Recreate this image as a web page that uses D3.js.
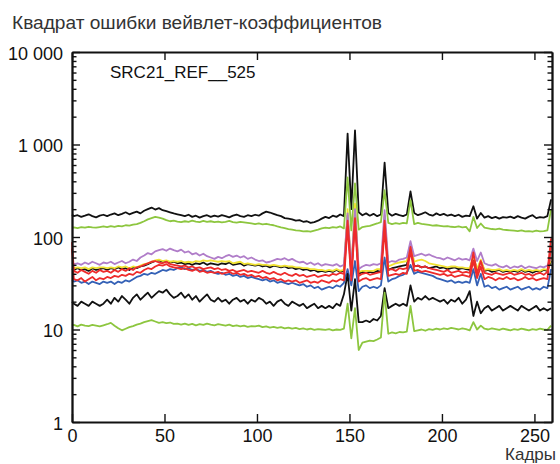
<!DOCTYPE html>
<html><head><meta charset="utf-8">
<script src="https://cdn.jsdelivr.net/npm/d3@7"></script>
<style>body{margin:0;background:#fff}svg{display:block}</style>
</head><body>
<svg id="c" width="560" height="464"></svg>
<script>
const titleText = "Квадрат ошибки вейвлет-коэффициентов";
const seriesLabel = "SRC21_REF__525";
const xAxisLabel = "Кадры";
const xTicks = [0, 50, 100, 150, 200, 250];
const yTicks = [1, 10, 100, 1000, 10000];
const yTickLabels = ["1", "10", "100", "1 000", "10 000"];
const yMinor = [2,3,4,5,6,7,8,9,20,30,40,50,60,70,80,90,200,300,400,500,600,700,800,900,2000,3000,4000,5000,6000,7000,8000,9000];

const frames = [0,1,3,5,7,9,11,13,15,17,19,21,23,25,27,29,31,33,35,37,39,41,43,45,47,49,51,53,55,57,59,61,63,65,67,69,71,73,75,77,79,81,83,85,87,89,91,93,95,97,99,101,103,105,107,109,111,113,115,117,119,121,123,125,127,129,131,133,135,137,139,141,143,145,147,149,151,153,155,157,159,161,163,165,167,169,171,173,175,177,179,181,183,185,187,189,191,193,195,197,199,201,203,205,207,209,211,213,215,217,219,221,223,225,227,229,231,233,235,237,239,241,243,245,247,249,251,253,255,257,259];

const blackTop = [175,168,172,165,170,176,168,163,170,174,
168,175,180,172,178,185,176,182,188,180,
192,200,208,198,205,195,190,185,180,176,
172,168,174,165,170,162,168,172,165,170,
166,172,168,163,170,175,168,165,172,168,
174,170,180,188,184,178,172,168,160,158,
155,150,152,146,148,142,145,150,158,165,
160,170,165,175,168,1312,200,1423,185,172,
180,170,178,168,175,637,182,170,178,172,
168,175,312,182,172,178,185,175,170,180,
172,178,170,175,168,174,165,170,168,215,
158,182,162,168,160,165,158,164,162,166,
160,168,162,158,166,172,160,164,162,168,
255];

const greenTop = [126,127,125,128,126,129,127,126,128,130,
128,131,129,132,130,134,133,136,138,142,
148,155,160,165,162,158,152,148,150,147,
145,148,146,150,147,145,149,146,148,145,
147,144,146,149,145,143,146,144,142,140,
138,140,137,139,136,134,130,127,125,122,
120,118,117,115,116,114,117,120,124,126,
125,128,126,130,124,440,118,380,120,128,
130,132,136,140,145,320,142,138,141,139,
142,140,250,138,142,139,137,135,133,134,
132,130,131,129,128,130,127,129,115,165,
125,140,126,124,122,121,123,120,119,118,
117,116,118,115,116,114,117,115,116,118,
200];

const purple = [53,51,52,50,53,51,54,52,50,53,
52,54,51,53,55,52,54,57,55,60,
63,67,65,70,72,74,71,75,72,70,
73,68,70,65,67,63,66,62,60,58,
61,59,62,64,61,63,60,62,58,60,
57,55,56,53,54,56,58,57,59,56,
58,55,53,54,51,53,50,52,49,51,
50,49,51,48,50,180,46,200,45,48,
50,49,51,50,52,195,53,55,54,57,
58,60,90,62,64,66,63,65,62,60,
59,57,60,58,56,59,57,58,56,75,
55,68,52,50,49,51,48,47,49,46,
48,47,49,46,48,47,46,48,47,49,
60];

const yellow = [47,46,47,46,47,45,47,46,47,47,
46,47,46,48,47,48,46,48,47,49,
51,52,54,56,57,55,56,54,55,54,
55,53,54,53,55,54,56,55,56,55,
54,55,54,55,52,53,54,51,52,51,
50,51,50,50,49,50,49,48,49,48,
48,47,47,46,46,45,45,44,44,43,
44,43,45,43,44,200,42,230,42,43,
43,43,43,45,45,170,48,50,52,53,
54,55,85,54,56,57,55,52,51,50,
49,48,47,48,48,47,47,46,46,62,
45,57,44,45,44,44,45,43,44,43,
44,43,45,43,44,43,44,43,45,44,
58];

const blackMid = [45,44,46,44,45,43,46,44,45,46,
44,46,45,47,45,46,44,47,46,48,
49,51,53,55,56,54,55,53,54,52,
53,51,52,50,52,51,53,50,52,51,
50,52,51,53,50,51,52,49,51,50,
49,50,48,49,47,49,48,47,48,46,
47,45,46,44,45,43,44,42,43,42,
43,42,44,42,43,170,40,190,40,42,
41,42,41,43,42,150,44,46,47,48,
49,50,75,48,49,47,48,46,47,48,
46,47,45,46,47,45,46,45,44,60,
44,55,43,44,42,43,44,42,43,42,
43,42,44,42,43,41,43,42,44,43,
55];

const redUpper = [88,43,41,44,42,40,43,41,44,42,
43,41,44,42,45,43,46,44,47,48,
50,52,54,55,53,52,54,51,50,49,
48,49,47,48,46,47,45,46,47,45,
46,44,45,43,44,42,43,44,42,43,
42,41,43,41,40,42,40,39,41,39,
38,40,38,39,37,38,39,37,38,39,
38,40,39,41,40,150,38,160,38,40,
41,39,40,41,42,150,44,45,43,46,
45,46,78,48,49,47,48,46,45,44,
43,42,44,41,42,43,41,42,41,68,
40,55,41,40,39,41,40,39,40,41,
39,40,41,39,40,38,40,41,39,42,
97];

const redLower = [75,35,34,36,33,35,37,34,36,35,
37,36,38,37,39,38,40,39,42,41,
44,46,45,48,50,49,51,48,47,46,
45,46,44,43,45,42,43,41,42,41,
42,40,41,42,40,41,39,40,38,39,
37,38,36,37,35,36,34,35,33,34,
33,34,32,33,34,32,33,32,34,33,
32,34,33,35,34,130,34,140,33,35,
36,34,35,36,35,120,38,39,40,39,
41,40,70,43,44,42,43,42,41,40,
39,40,38,39,37,38,39,38,37,55,
36,48,35,37,36,34,36,35,37,35,
36,34,35,37,35,36,34,35,36,35,
80];

const blue = [34,33,34,32,33,31,33,32,31,33,
32,33,31,33,32,34,33,35,37,38,
40,39,41,40,42,44,43,45,44,46,
47,45,46,44,45,43,44,42,43,41,
40,41,39,40,38,39,37,38,36,37,
36,35,34,35,33,34,32,33,32,31,
32,31,30,31,29,30,28,29,27,28,
29,28,30,29,32,45,30,55,26,29,
30,28,29,28,30,60,33,35,36,38,
39,41,50,40,42,41,40,39,38,36,
35,34,33,34,32,33,32,33,32,45,
30,40,29,30,28,29,27,28,29,27,
28,29,27,28,29,27,28,27,29,28,
45];

const blackLow = [20,19,18,20,19,18,20,19,18,19,
21,19,22,20,23,21,19,22,24,21,
23,25,22,24,26,25,27,24,22,23,
25,22,24,21,23,20,22,24,21,20,
22,20,21,19,21,22,20,21,19,21,
20,22,21,19,20,18,20,21,19,18,
20,19,18,19,17,18,19,17,18,17,
18,17,19,18,24,40,16,35,12,12,
12.5,12,13,12.5,14,28,17,18,19,18,
19,18,30,20,22,21,23,21,22,21,
20,21,19,21,20,22,19,21,26,14,
20,15,17,18,16,17,18,16,17,18,
17,16,18,17,16,17,18,16,17,16,
17];

const greenLow = [11,11.2,10.8,11.3,11,10.9,11.2,11,10.8,11.1,
11.4,11.8,11,10.3,9.8,10.2,10.6,10.9,11.3,11.6,
12,12.3,12.6,12.2,11.8,12,11.7,11.9,11.5,11.6,
11.3,11.6,11.2,11.5,11.1,11.4,11.2,11.6,11.3,11.1,
11.4,11.2,11,11.3,10.9,11.1,10.8,11,10.7,10.9,
10.8,11,10.6,10.8,10.5,10.7,10.4,10.6,10.3,10.5,
10.2,10.4,10.1,10.3,10,10.2,9.9,10.1,10,9.9,
10.1,9.8,10,9.9,10.2,19,8,17,6,7.2,
7.4,7.6,7.5,7.8,8.2,25,9,9.3,9.1,9.4,
9.3,9.5,18,9.6,9.8,10,9.7,10.1,9.9,10.2,
10,10.3,10.1,10.4,10.2,10,10.3,10.1,9.8,12,
10,11,10.2,10,10.3,10.1,9.9,10.2,10,9.8,
10.1,9.9,10.2,10,9.8,10.1,9.9,10.2,10,9.9,
11];

// drawing order (bottom to top) and colours
const series = [
  {v: blackTop, c: "#111111"},
  {v: greenTop, c: "#8dc63f"},
  {v: blackMid, c: "#111111"},
  {v: yellow,   c: "#f0e232"},
  {v: purple,   c: "#b07dc9"},
  {v: blue,     c: "#3461b6"},
  {v: redLower, c: "#ee2b2b"},
  {v: redUpper, c: "#ee2b2b"},
  {v: blackLow, c: "#111111"},
  {v: greenLow, c: "#8dc63f"}
];

const FONT = "'Liberation Sans', Arial, Helvetica, sans-serif";
const AX = "#111111";
const svg = d3.select("#c");
const L = 72, R = 552, T = 52, B = 422;
const x = d3.scaleLinear().domain([0, 259.5]).range([L, R]);
const y = d3.scaleLog().domain([1, 10000]).range([B, T]);

// title
svg.append("text").attr("x", 12).attr("y", 29).attr("font-family", FONT)
  .attr("font-size", 17.5).attr("textLength", 370).attr("lengthAdjust", "spacingAndGlyphs")
  .attr("fill", "#333").text(titleText);

// series lines
const line = d3.line().x((d, i) => x(frames[i])).y(d => y(d));
const g = svg.append("g");
series.forEach(s => {
  g.append("path").attr("d", line(s.v)).attr("fill", "none")
    .attr("stroke", s.c).attr("stroke-width", 1.8)
    .attr("stroke-linejoin", "round");
});

// axes (ticks pointing inward, full box)
function style(sel) {
  sel.select(".domain").attr("stroke", AX).attr("stroke-width", 1.8);
  sel.selectAll(".tick line").attr("stroke", AX).attr("stroke-width", 1.4);
  sel.selectAll("text").attr("font-family", FONT).attr("font-size", 18).attr("fill", "#111");
}
const gb = svg.append("g").attr("transform", `translate(0,${B})`)
  .call(d3.axisBottom(x).tickValues(xTicks).tickSizeInner(-8).tickSizeOuter(0).tickPadding(20));
style(gb);
gb.selectAll("text").attr("dy", 0).attr("y", 20);

const gt = svg.append("g").attr("transform", `translate(0,${T})`)
  .call(d3.axisTop(x).tickValues(xTicks).tickSizeInner(-8).tickSizeOuter(0).tickFormat(""));
style(gt);

const gl = svg.append("g").attr("transform", `translate(${L},0)`)
  .call(d3.axisLeft(y).tickValues(yTicks).tickSizeInner(-8).tickSizeOuter(0).tickPadding(9)
    .tickFormat((d, i) => yTickLabels[i]));
style(gl);
gl.selectAll("text").attr("dy", 0).attr("y", 7);

const glm = svg.append("g").attr("transform", `translate(${L},0)`)
  .call(d3.axisLeft(y).tickValues(yMinor).tickSizeInner(-4.5).tickSizeOuter(0).tickFormat(""));
style(glm);

const gr = svg.append("g").attr("transform", `translate(${R},0)`)
  .call(d3.axisRight(y).tickValues(yTicks).tickSizeInner(-8).tickSizeOuter(0).tickFormat(""));
style(gr);
const grm = svg.append("g").attr("transform", `translate(${R},0)`)
  .call(d3.axisRight(y).tickValues(yMinor).tickSizeInner(-4.5).tickSizeOuter(0).tickFormat(""));
style(grm);

// labels
svg.append("text").attr("x", 110).attr("y", 78).attr("font-family", FONT)
  .attr("font-size", 17).attr("fill", "#111").text(seriesLabel);
svg.append("text").attr("x", 556).attr("y", 460).attr("text-anchor", "end")
  .attr("font-family", FONT).attr("font-size", 17).attr("fill", "#333").text(xAxisLabel);
</script>
</body></html>
